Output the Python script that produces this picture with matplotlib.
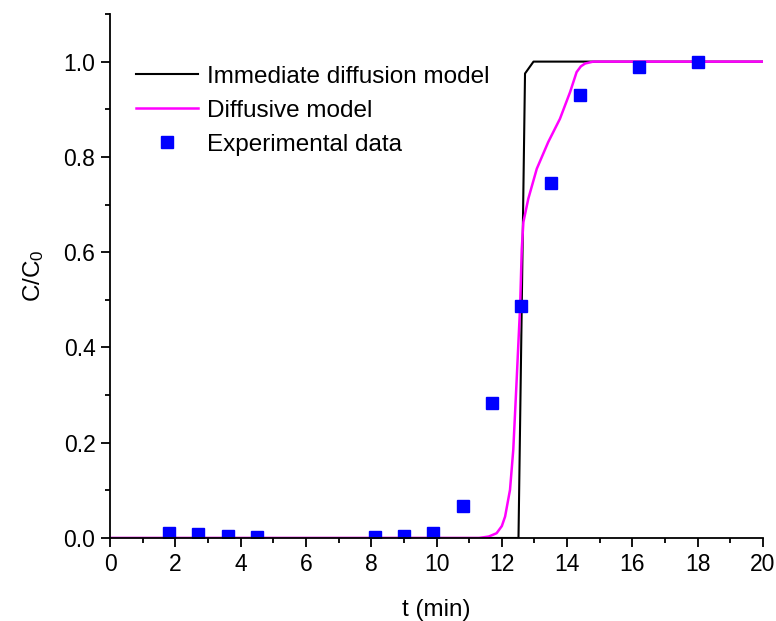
import matplotlib
matplotlib.use("Agg")
import matplotlib.pyplot as plt
from matplotlib.ticker import MultipleLocator

plt.rcParams["font.family"] = ["Liberation Sans", "DejaVu Sans"]
plt.rcParams["mathtext.fontset"] = "custom"
plt.rcParams["mathtext.rm"] = "Liberation Sans"
plt.rcParams["mathtext.it"] = "Liberation Sans"

# experimental data
t_exp = [1.8, 2.7, 3.6, 4.5, 8.1, 9.0, 9.9, 10.8, 11.7, 12.6, 13.5, 14.4, 16.2, 18.0]
c_exp = [0.010, 0.008, 0.005, 0.003, 0.002, 0.004, 0.010, 0.068, 0.284, 0.487,
         0.745, 0.930, 0.989, 1.000]

# immediate diffusion model
t_imm = [0, 12.51, 12.71, 12.97, 20]
c_imm = [0, 0, 0.975, 1.0, 1.0]

# diffusive model
t_dif = [0, 11.3, 11.6, 11.84, 12.0, 12.10, 12.25, 12.35, 12.45, 12.56, 12.61,
         12.66, 12.81, 13.07, 13.42, 13.78, 14.09, 14.29, 14.42, 14.55, 14.8, 20]
c_dif = [0, 0, 0.003, 0.010, 0.025, 0.045, 0.101, 0.185, 0.326, 0.487, 0.606,
         0.663, 0.712, 0.775, 0.831, 0.880, 0.936, 0.978, 0.990, 0.996, 1.0, 1.0]

fig = plt.figure(figsize=(7.76, 6.21), dpi=100)
ax = fig.add_axes([0.1418, 0.1337, 0.8415, 0.8438])

ax.plot(t_imm, c_imm, color="black", lw=1.5, label="Immediate diffusion model")
ax.plot(t_dif, c_dif, color="#ff00ff", lw=1.8, label="Diffusive model")
ax.plot(t_exp, c_exp, "s", color="#0000ff", ms=8.5, ls="none", label="Experimental data")

ax.set_xlim(0, 20)
ax.set_ylim(0, 1.1)
ax.xaxis.set_major_locator(MultipleLocator(2))
ax.xaxis.set_minor_locator(MultipleLocator(1))
ax.yaxis.set_major_locator(MultipleLocator(0.2))
ax.yaxis.set_minor_locator(MultipleLocator(0.1))
ax.yaxis.set_major_formatter(plt.FormatStrFormatter("%.1f"))
for s in ("top", "right"):
    ax.spines[s].set_visible(False)
for s in ("left", "bottom"):
    ax.spines[s].set_linewidth(1.3)
ax.tick_params(which="major", direction="out", length=6.5, width=1.3, labelsize=16.5, pad=4)
ax.tick_params(which="minor", direction="out", length=3.5, width=1.3)

ax.set_xlabel("t (min)", fontsize=17.5, labelpad=17)
ax.set_ylabel("C/C$_\\mathrm{0}$", fontsize=17.5, labelpad=13)

ax.legend(loc="upper left", bbox_to_anchor=(0.025, 0.92), frameon=False,
          fontsize=17.5, handlelength=2.55, handletextpad=0.35, labelspacing=0.5,
          borderaxespad=0)

fig.savefig("out.png", dpi=100)
